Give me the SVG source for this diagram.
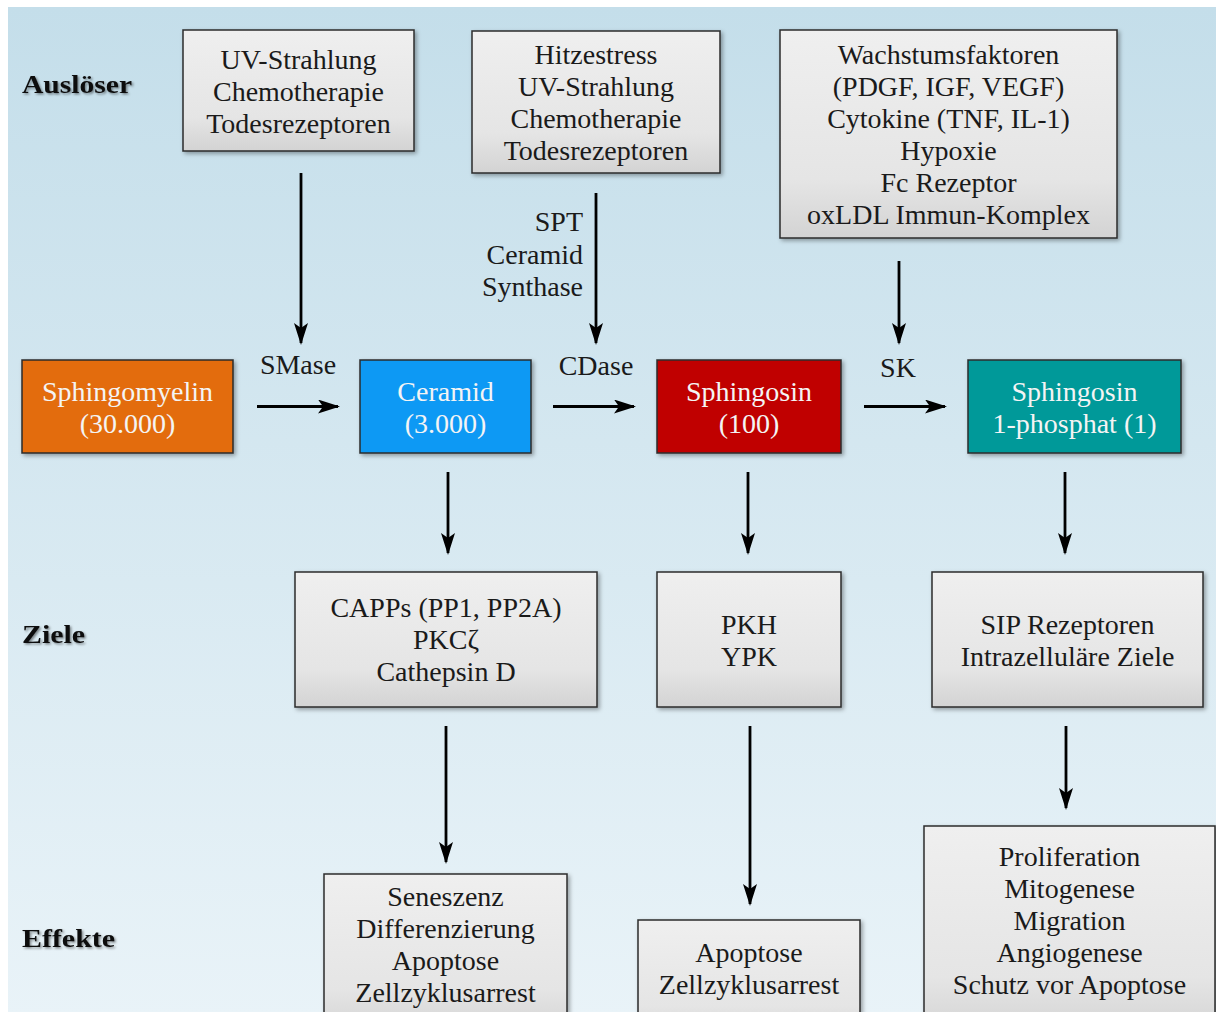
<svg xmlns="http://www.w3.org/2000/svg" width="1216" height="1012" viewBox="0 0 1216 1012">
  <defs>
    <linearGradient id="bg" x1="0" y1="0" x2="0" y2="1">
      <stop offset="0" stop-color="#c4deea"/>
      <stop offset="1" stop-color="#e9f3f8"/>
    </linearGradient>
    <linearGradient id="gray" x1="0" y1="0" x2="0" y2="1">
      <stop offset="0" stop-color="#efefef"/>
      <stop offset="0.72" stop-color="#e5e5e5"/>
      <stop offset="1" stop-color="#d3d3d3"/>
    </linearGradient>
    <filter id="shadow" x="-10%" y="-10%" width="125%" height="130%">
      <feDropShadow dx="2" dy="2" stdDeviation="2" flood-color="#000" flood-opacity="0.35"/>
    </filter>
    <filter id="tshadow" x="-10%" y="-30%" width="130%" height="170%">
      <feDropShadow dx="1.5" dy="1.5" stdDeviation="1.2" flood-color="#000" flood-opacity="0.45"/>
    </filter>
    <marker id="arr" viewBox="0 0 22 14" refX="20" refY="7" markerWidth="22" markerHeight="14" markerUnits="userSpaceOnUse" orient="auto">
      <path d="M0,0 L22,7 L0,14 L5,7 z" fill="#000"/>
    </marker>
  </defs>
  <style>
    .box { stroke: #2b2b2b; stroke-width: 1.5; filter: url(#shadow); }
    .g { fill: url(#gray); }
    .t { font-family: "Liberation Serif", "Times New Roman", serif; font-size: 28px; fill: #1a1a1a; text-anchor: middle; }
    .w { fill: #f4f4f4; }
    .side { font-family: "Liberation Serif", "Times New Roman", serif; font-size: 26px; font-weight: bold; fill: #111; filter: url(#tshadow); }
    .lbl { font-family: "Liberation Serif", "Times New Roman", serif; font-size: 28px; fill: #1a1a1a; }
    .c line { stroke: #000; stroke-width: 2.8; marker-end: url(#arr); }
  </style>

  <rect x="8" y="7" width="1216" height="1010" fill="url(#bg)"/>

  <text class="side" x="22" y="93" textLength="110" lengthAdjust="spacingAndGlyphs">Auslöser</text>
  <text class="side" x="22" y="643" textLength="63" lengthAdjust="spacingAndGlyphs">Ziele</text>
  <text class="side" x="22" y="947" textLength="93" lengthAdjust="spacingAndGlyphs">Effekte</text>

  <g id="trigger1">
    <rect class="box g" x="183" y="30" width="231" height="121"/>
    <text class="t" x="298.5" y="69">UV-Strahlung<tspan x="298.5" dy="32">Chemotherapie</tspan><tspan x="298.5" dy="32">Todesrezeptoren</tspan></text>
  </g>
  <g id="trigger2">
    <rect class="box g" x="472" y="31" width="248" height="142"/>
    <text class="t" x="596" y="64">Hitzestress<tspan x="596" dy="32">UV-Strahlung</tspan><tspan x="596" dy="32">Chemotherapie</tspan><tspan x="596" dy="32">Todesrezeptoren</tspan></text>
  </g>
  <g id="trigger3">
    <rect class="box g" x="780" y="30" width="337" height="208"/>
    <text class="t" x="948.5" y="64">Wachstumsfaktoren<tspan x="948.5" dy="32">(PDGF, IGF, VEGF)</tspan><tspan x="948.5" dy="32">Cytokine (TNF, IL-1)</tspan><tspan x="948.5" dy="32">Hypoxie</tspan><tspan x="948.5" dy="32">Fc Rezeptor</tspan><tspan x="948.5" dy="32">oxLDL Immun-Komplex</tspan></text>
  </g>

  <g id="sphingomyelin">
    <rect class="box" x="22" y="360" width="211" height="93" fill="#e36c0a"/>
    <text class="t w" x="127.5" y="401">Sphingomyelin<tspan x="127.5" dy="32">(30.000)</tspan></text>
  </g>
  <g id="ceramid">
    <rect class="box" x="360" y="360" width="171" height="93" fill="#0899f4"/>
    <text class="t w" x="445.5" y="401">Ceramid<tspan x="445.5" dy="32">(3.000)</tspan></text>
  </g>
  <g id="sphingosin">
    <rect class="box" x="657" y="360" width="184" height="93" fill="#c00000"/>
    <text class="t w" x="749" y="401">Sphingosin<tspan x="749" dy="32">(100)</tspan></text>
  </g>
  <g id="s1p">
    <rect class="box" x="968" y="360" width="213" height="93" fill="#009999"/>
    <text class="t w" x="1074.5" y="401">Sphingosin<tspan x="1074.5" dy="32">1-phosphat (1)</tspan></text>
  </g>

  <g id="ziel1">
    <rect class="box g" x="295" y="572" width="302" height="135"/>
    <text class="t" x="446" y="617">CAPPs (PP1, PP2A)<tspan x="446" dy="32">PKCζ</tspan><tspan x="446" dy="32">Cathepsin D</tspan></text>
  </g>
  <g id="ziel2">
    <rect class="box g" x="657" y="572" width="184" height="135"/>
    <text class="t" x="749" y="634">PKH<tspan x="749" dy="32">YPK</tspan></text>
  </g>
  <g id="ziel3">
    <rect class="box g" x="932" y="572" width="271" height="135"/>
    <text class="t" x="1067.5" y="634">SIP Rezeptoren<tspan x="1067.5" dy="32">Intrazelluläre Ziele</tspan></text>
  </g>

  <g id="effekt1">
    <rect class="box g" x="324" y="874" width="243" height="160"/>
    <text class="t" x="445.5" y="906">Seneszenz<tspan x="445.5" dy="32">Differenzierung</tspan><tspan x="445.5" dy="32">Apoptose</tspan><tspan x="445.5" dy="32">Zellzyklusarrest</tspan></text>
  </g>
  <g id="effekt2">
    <rect class="box g" x="638" y="920" width="222" height="120"/>
    <text class="t" x="749" y="962">Apoptose<tspan x="749" dy="32">Zellzyklusarrest</tspan></text>
  </g>
  <g id="effekt3">
    <rect class="box g" x="924" y="826" width="291" height="210"/>
    <text class="t" x="1069.5" y="866">Proliferation<tspan x="1069.5" dy="32">Mitogenese</tspan><tspan x="1069.5" dy="32">Migration</tspan><tspan x="1069.5" dy="32">Angiogenese</tspan><tspan x="1069.5" dy="32">Schutz vor Apoptose</tspan></text>
  </g>

  <g id="connectors" class="c">
    <line x1="301" y1="173" x2="301" y2="343"/>
    <line x1="596" y1="193" x2="596" y2="343"/>
    <line x1="899" y1="261" x2="899" y2="343"/>
    <line x1="257" y1="406.5" x2="338" y2="406.5"/>
    <line x1="553" y1="406.5" x2="634" y2="406.5"/>
    <line x1="864" y1="406.5" x2="945" y2="406.5"/>
    <line x1="448" y1="472" x2="448" y2="553"/>
    <line x1="748" y1="472" x2="748" y2="553"/>
    <line x1="1065" y1="472" x2="1065" y2="553"/>
    <line x1="446" y1="726" x2="446" y2="862"/>
    <line x1="750" y1="726" x2="750" y2="904"/>
    <line x1="1066" y1="726" x2="1066" y2="808"/>
  </g>

  <g id="labels">
    <text class="lbl" x="298" y="374" text-anchor="middle">SMase</text>
    <text class="lbl" x="596" y="375" text-anchor="middle">CDase</text>
    <text class="lbl" x="898" y="377" text-anchor="middle">SK</text>
    <text class="lbl" x="583" y="231" text-anchor="end">SPT</text>
    <text class="lbl" x="583" y="264" text-anchor="end">Ceramid</text>
    <text class="lbl" x="583" y="296" text-anchor="end">Synthase</text>
  </g>
</svg>
